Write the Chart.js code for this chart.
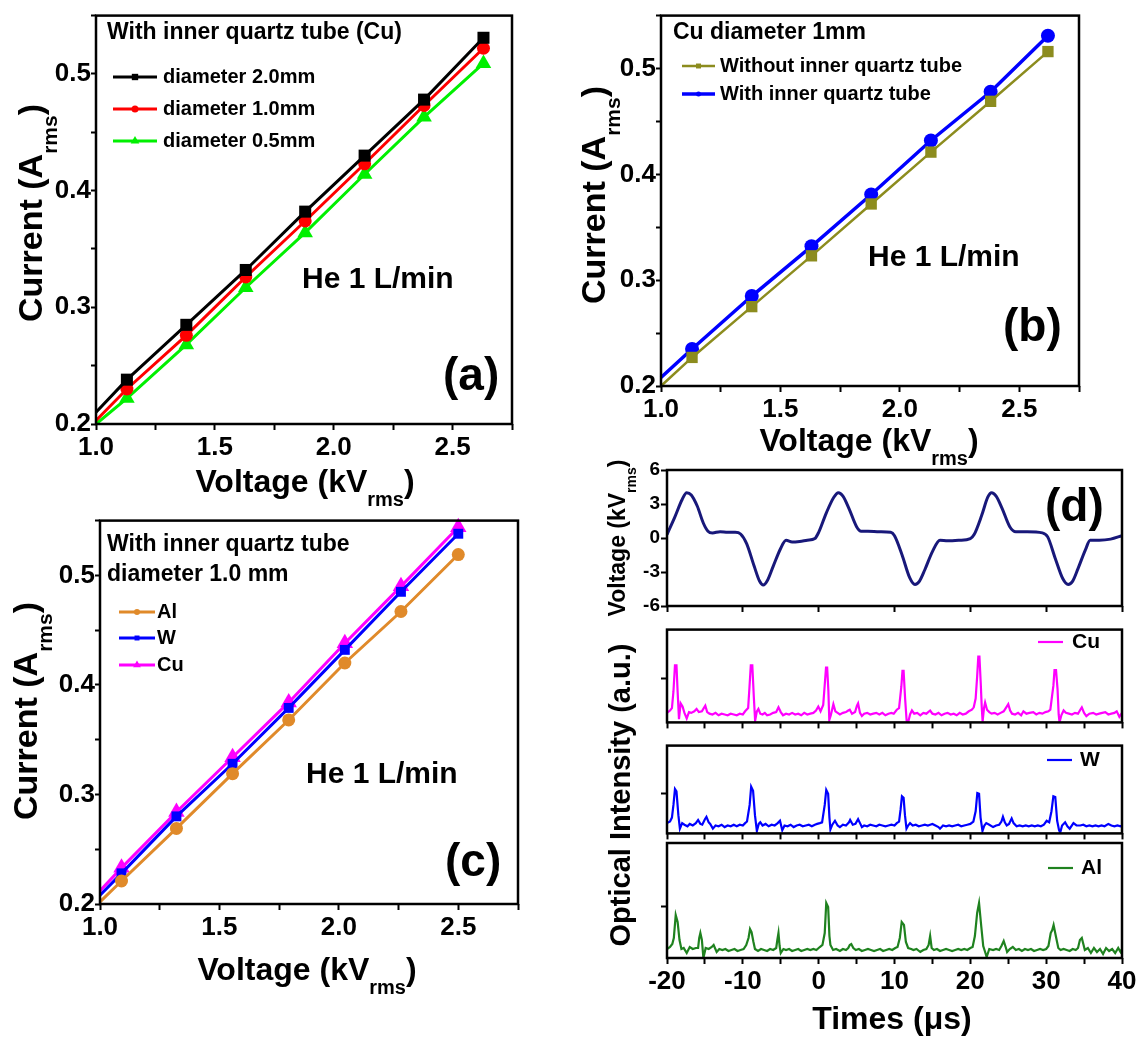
<!DOCTYPE html>
<html>
<head>
<meta charset="utf-8">
<script src="https://cdn.jsdelivr.net/npm/chart.js@4.4.1/dist/chart.umd.min.js"></script>
<style>
  body { margin: 0; background: #fff; }
  #wrap { position: relative; width: 1140px; height: 1042px; overflow: hidden; background: #fff; }
  #wrap canvas { position: absolute; }
</style>
</head>
<body>
<div id="wrap"></div>
<script>
// ---- (a) current vs voltage, inner quartz tube, Cu electrodes of three diameters ----
const voltsA = [1.0, 1.13, 1.38, 1.63, 1.88, 2.13, 2.38, 2.63];
const dia20 = [0.210, 0.238, 0.285, 0.332, 0.382, 0.430, 0.478, 0.531];
const dia10 = [0.203, 0.230, 0.276, 0.326, 0.374, 0.423, 0.473, 0.522];
const dia05 = [0.200, 0.222, 0.268, 0.317, 0.364, 0.414, 0.463, 0.509];
const seriesA = ['diameter 2.0mm', 'diameter 1.0mm', 'diameter 0.5mm'];

// ---- (b) Cu 1mm, with / without inner tube ----
const voltsB = [1.0, 1.13, 1.38, 1.63, 1.88, 2.13, 2.38, 2.62];
const withoutTube = [0.200, 0.227, 0.275, 0.323, 0.372, 0.421, 0.469, 0.516];
const withTube = [0.208, 0.235, 0.285, 0.332, 0.381, 0.432, 0.478, 0.531];
const seriesB = ['Without inner quartz tube', 'With inner quartz tube'];

// ---- (c) electrode material ----
const voltsC = [1.0, 1.09, 1.32, 1.555, 1.79, 2.025, 2.26, 2.5];
const currAl = [0.202, 0.221, 0.269, 0.319, 0.368, 0.420, 0.467, 0.519];
const currW = [0.208, 0.228, 0.280, 0.328, 0.379, 0.432, 0.485, 0.538];
const currCu = [0.212, 0.233, 0.284, 0.334, 0.384, 0.438, 0.490, 0.544];
const seriesC = ['Al', 'W', 'Cu'];

// tick labels
const currentLabels = [0.2, 0.3, 0.4, 0.5];
const voltageLabels = [1.0, 1.5, 2.0, 2.5];
const timeLabels = [-20, -10, 0, 10, 20, 30, 40];
const waveLabels = [-6, -3, 0, 3, 6];

// ---- (d) applied voltage waveform (kV) ----
const voltTime = [-20,-19.8,-19,-18,-17.4,-16.8,-16,-15.2,-14.6,-14,-13,-12,-11,-10.3,-9.5,-8.5,-7.8,-7.3,-6.8,-6,
  -5,-4.3,-3.5,-2.5,-1.5,-0.5,0,1,2,2.6,3.2,4,5,5.6,6.5,8,9.5,10,11,12,
  12.7,13.3,14,15,16,17,18.5,20,20.5,21.5,22.3,22.8,23.4,24.2,25.2,26,27.5,29.5,30.2,31.2,
  32.2,32.9,33.5,34.2,35.2,35.8,37,38.5,40];
const voltWave = [0.3,0.6,1.8,3.4,4.0,3.8,2.8,1.3,0.6,0.45,0.55,0.5,0.5,0.35,-0.5,-2.5,-3.8,-4.15,-3.8,-2.5,
  -0.9,-0.2,-0.35,-0.3,-0.2,-0.05,0.5,2.2,3.6,4.0,3.7,2.6,1.0,0.6,0.6,0.55,0.5,0.2,-1.5,-3.5,
  -4.1,-3.8,-2.8,-1.2,-0.2,-0.25,-0.2,-0.05,0.3,2.0,3.6,4.0,3.7,2.6,1.0,0.55,0.55,0.45,0.1,-1.8,
  -3.6,-4.1,-3.8,-2.7,-1.0,-0.2,-0.2,-0.1,0.2];

// optical emission traces [time us, intensity a.u.]
const cuTrace = [[-20,12],[-19.6,15],[-19.35,18],[-19.15,39],[-18.95,72],[-18.75,72],[-18.6,39],[-18.42,4],[-18.2,24],[-17.95,20],
  [-17.7,12],[-17.4,5],[-17.1,13],[-16.8,12],[-16.4,14],[-16.1,17],[-15.8,13],[-15.4,14],[-15.15,18],[-14.95,21],
  [-14.7,13],[-14.4,11],[-14.0,10],[-13.6,12],[-13.2,9],[-12.8,11],[-12.4,10],[-12.0,9],[-11.6,11],[-11.2,10],
  [-10.8,9],[-10.4,11],[-10.0,10],[-9.7,14],[-9.3,18],[-9.12,45],[-8.95,72],[-8.75,72],[-8.55,32],[-8.38,2],
  [-8.15,14],[-7.95,17],[-7.7,11],[-7.4,10],[-7.1,12],[-6.8,9],[-6.4,10],[-6.0,12],[-5.6,13],[-5.3,19],
  [-5.0,13],[-4.7,9],[-4.3,11],[-3.9,10],[-3.5,12],[-3.1,10],[-2.7,11],[-2.3,9],[-1.9,12],[-1.5,10],
  [-1.1,11],[-0.7,12],[-0.35,15],[-0.05,20],[0.25,14],[0.6,22],[0.82,50],[0.97,69],[1.12,69],[1.28,40],
  [1.4,3],[1.6,9],[1.94,23],[2.2,14],[2.5,12],[2.8,10],[3.2,12],[3.6,13],[3.9,15],[4.1,16],
  [4.4,11],[4.8,13],[5.05,21],[5.2,24],[5.45,12],[5.7,8],[6.0,11],[6.4,12],[6.8,10],[7.2,11],
  [7.6,12],[8.0,10],[8.4,12],[8.8,9],[9.2,11],[9.6,12],[9.9,11],[10.3,16],[10.6,18],[10.9,45],
  [11.05,65],[11.2,65],[11.4,30],[11.6,2],[11.8,0],[12.05,10],[12.3,15],[12.6,11],[13.0,12],[13.4,9],
  [13.8,12],[14.2,11],[14.7,15],[15.0,11],[15.4,10],[15.8,12],[16.2,9],[16.6,11],[17.0,12],[17.4,10],
  [17.8,11],[18.2,9],[18.6,12],[19.0,10],[19.4,11],[19.8,14],[20.2,16],[20.45,19],[20.7,30],[20.9,58],
  [21.05,83],[21.2,83],[21.37,50],[21.5,20],[21.62,1],[21.8,18],[21.95,25],[22.2,16],[22.5,13],[22.8,11],
  [23.2,12],[23.6,10],[24.0,12],[24.4,14],[24.8,20],[25.0,23],[25.25,15],[25.5,11],[25.9,10],[26.3,12],
  [26.7,9],[27.0,14],[27.4,11],[27.8,12],[28.3,13],[28.7,10],[29.1,12],[29.5,11],[29.9,13],[30.3,14],
  [30.55,16],[30.8,35],[30.95,46],[31.1,66],[31.3,66],[31.5,42],[31.65,10],[31.76,0],[32.0,9],[32.3,15],
  [32.6,12],[33.0,11],[33.4,10],[33.8,12],[34.2,11],[34.5,16],[34.7,19],[35.0,12],[35.3,8],[35.7,11],
  [36.2,12],[36.6,10],[37.0,11],[37.4,12],[37.8,13],[38.2,10],[38.6,11],[39.0,12],[39.3,14],[39.65,7],[40,12]];

const wTrace = [[-20,13],[-19.6,15],[-19.35,20],[-19.15,36],[-18.95,56],[-18.75,53],[-18.5,23],[-18.3,6],[-18.0,13],[-17.7,11],
  [-17.3,9],[-17.0,12],[-16.6,10],[-16.2,13],[-15.9,17],[-15.6,12],[-15.35,11],[-15.0,18],[-14.8,21],[-14.5,14],
  [-14.3,12],[-13.95,6],[-13.6,10],[-13.2,9],[-12.8,11],[-12.4,8],[-12.0,10],[-11.6,9],[-11.2,11],[-10.8,9],
  [-10.4,11],[-10.0,10],[-9.7,13],[-9.45,15],[-9.1,36],[-8.9,59],[-8.65,54],[-8.4,23],[-8.15,3],[-7.9,12],
  [-7.7,14],[-7.4,10],[-7.0,12],[-6.6,9],[-6.2,11],[-5.8,10],[-5.4,13],[-5.1,16],[-4.8,4],[-4.5,10],
  [-4.1,9],[-3.7,11],[-3.3,8],[-2.9,10],[-2.5,11],[-2.1,9],[-1.7,10],[-1.3,11],[-0.9,9],[-0.5,11],
  [-0.2,12],[0.15,13],[0.45,14],[0.8,36],[1.0,55],[1.25,50],[1.42,20],[1.55,5],[1.8,11],[2.15,16],
  [2.5,10],[2.8,8],[3.2,11],[3.6,10],[4.0,14],[4.15,17],[4.5,11],[4.85,12],[5.2,18],[5.45,13],
  [5.7,8],[6.0,10],[6.4,9],[6.8,11],[7.2,10],[7.6,9],[8.0,11],[8.4,10],[8.8,9],[9.2,10],
  [9.6,11],[10.0,10],[10.3,13],[10.6,15],[10.8,30],[10.98,47],[11.2,45],[11.38,23],[11.58,6],[11.8,10],
  [12.05,13],[12.4,10],[12.8,11],[13.2,9],[13.6,10],[14.0,11],[14.4,10],[14.7,11],[15.0,12],[15.4,10],
  [15.8,8],[16.0,6],[16.4,10],[16.8,9],[17.2,10],[17.6,9],[18.0,10],[18.4,11],[18.8,9],[19.2,10],
  [19.6,11],[20.0,12],[20.4,15],[20.7,28],[20.92,51],[21.15,50],[21.35,20],[21.6,3],[21.85,10],[22.1,13],
  [22.5,11],[23.0,8],[23.4,10],[23.8,11],[24.1,15],[24.3,21],[24.55,14],[24.8,10],[25.1,12],[25.45,19],
  [25.7,13],[26.1,9],[26.5,10],[26.9,9],[27.3,10],[27.7,9],[28.1,10],[28.5,9],[28.9,10],[29.3,9],
  [29.7,11],[30.07,16],[30.4,14],[30.7,28],[30.95,47],[31.2,46],[31.45,16],[31.7,4],[31.85,1],[32.1,10],
  [32.5,14],[32.8,9],[33.1,6],[33.6,13],[34.0,10],[34.5,10],[34.9,11],[35.3,9],[35.7,10],[36.1,9],
  [36.5,10],[36.9,9],[37.3,10],[37.7,9],[38.2,12],[38.6,10],[39.0,9],[39.4,10],[39.8,9],[40,10]];

const alTrace = [[-20,9],[-19.6,11],[-19.3,14],[-19.1,20],[-18.85,43],[-18.6,36],[-18.35,18],[-18.1,9],[-17.8,10],[-17.4,5],
  [-17.0,11],[-16.6,9],[-16.2,10],[-15.9,10],[-15.75,20],[-15.6,25],[-15.4,18],[-15.2,0],[-14.9,10],[-14.5,9],
  [-14.1,11],[-13.85,13],[-13.45,6],[-13.1,9],[-12.7,8],[-12.3,9],[-11.9,7],[-11.5,8],[-11.1,9],[-10.7,7],
  [-10.3,8],[-9.9,9],[-9.55,13],[-9.25,20],[-9.05,29],[-8.85,26],[-8.6,16],[-8.4,9],[-8.0,7],[-7.6,9],
  [-7.2,8],[-6.8,7],[-6.4,9],[-6.0,8],[-5.6,10],[-5.45,18],[-5.3,25],[-5.15,12],[-5.0,5],[-4.65,9],
  [-4.3,8],[-3.9,9],[-3.5,7],[-3.1,8],[-2.7,9],[-2.3,7],[-1.9,8],[-1.5,9],[-1.1,8],[-0.7,9],
  [-0.3,8],[0.15,11],[0.5,13],[0.8,25],[1.0,55],[1.25,51],[1.42,22],[1.55,13],[1.9,8],[2.3,9],
  [2.8,7],[3.2,9],[3.6,8],[3.9,10],[4.1,13],[4.3,14],[4.57,10],[4.9,8],[5.3,9],[5.7,7],
  [6.1,8],[6.5,9],[6.9,8],[7.3,7],[7.7,8],[8.1,9],[8.5,7],[8.9,8],[9.3,9],[9.7,8],
  [10.1,10],[10.4,11],[10.7,20],[10.95,36],[11.25,33],[11.5,16],[11.8,10],[12.2,9],[12.5,8],[12.9,9],
  [13.4,6],[13.8,8],[14.2,9],[14.5,13],[14.7,22],[14.9,10],[15.2,8],[15.6,9],[16.0,7],[16.4,8],
  [16.8,9],[17.2,8],[17.6,7],[18.0,8],[18.4,9],[18.8,8],[19.2,9],[19.6,8],[20.0,10],[20.3,11],
  [20.6,22],[20.9,45],[21.15,55],[21.45,31],[21.7,12],[21.95,6],[22.15,1],[22.5,9],[23.0,8],[23.4,9],
  [23.8,8],[24.1,12],[24.4,17],[24.7,10],[24.85,6],[25.2,9],[25.6,11],[26.0,8],[26.4,9],[26.8,7],
  [27.2,9],[27.6,8],[28.0,9],[28.4,7],[28.8,8],[29.2,9],[29.6,8],[30.0,9],[30.3,12],[30.6,25],
  [30.8,28],[30.98,33],[31.3,21],[31.6,10],[31.9,8],[32.3,9],[32.7,8],[33.1,7],[33.5,9],[33.9,8],
  [34.2,10],[34.45,18],[34.7,20],[35.1,8],[35.5,10],[35.9,5],[36.3,10],[36.7,6],[37.1,9],[37.5,4],
  [37.9,10],[38.3,7],[38.7,9],[39.1,5],[39.5,10],[39.8,6],[40,9]];

const FONT = "'Liberation Sans', Arial, sans-serif";
Chart.defaults.font.family = FONT;
Chart.defaults.color = '#000';

const bold = size => 'bold ' + size + 'px ' + FONT;
const pts = (xs, ys) => xs.map((x, i) => ({ x, y: ys[i] }));
const pairs = arr => arr.map(p => ({ x: p[0], y: p[1] }));

function drawMarker(ctx, style, x, y, r) {
  ctx.beginPath();
  if (style === 'rect') {
    const s = r * Math.SQRT1_2;
    ctx.rect(x - s, y - s, 2 * s, 2 * s);
  } else if (style === 'triangle') {
    for (let k = 0; k < 3; k++) {
      const a = -Math.PI / 2 + k * 2 * Math.PI / 3;
      k ? ctx.lineTo(x + r * Math.cos(a), y + r * Math.sin(a)) : ctx.moveTo(x + r * Math.cos(a), y + r * Math.sin(a));
    }
    ctx.closePath();
  } else {
    ctx.arc(x, y, r, 0, Math.PI * 2);
  }
  ctx.fill();
}

// text with optional subscript part, horizontal or rotated
function drawRich(ctx, t) {
  ctx.save();
  ctx.translate(t.x, t.y);
  if (t.rot) ctx.rotate(-Math.PI / 2);
  ctx.textBaseline = 'middle';
  ctx.fillStyle = '#000';
  const sub = t.sub || Math.round(t.size * 0.62);
  const w = t.parts.map(p => { ctx.font = bold(p.sub ? sub : t.size); return ctx.measureText(p.t).width; });
  const total = w.reduce((a, b) => a + b, 0);
  let cx = t.align === 'left' ? 0 : -total / 2;
  t.parts.forEach((p, i) => {
    ctx.font = bold(p.sub ? sub : t.size);
    ctx.fillText(p.t, cx, p.sub ? t.size * 0.55 : 0);
    cx += w[i];
  });
  ctx.restore();
}

const annotate = {
  id: 'annotate',
  afterDatasetsDraw(chart, args, opts) {
    const ctx = chart.ctx;
    const ox = opts.box.x, oy = opts.box.y;
    const a = chart.chartArea;
    ctx.save();
    ctx.strokeStyle = '#000';
    ctx.lineWidth = 2.5;
    ctx.strokeRect(a.left, a.top, a.right - a.left, a.bottom - a.top);
    (opts.legend || []).forEach(it => {
      const ds = chart.data.datasets[it.ds];
      const y = it.y - oy;
      ctx.strokeStyle = ds.borderColor;
      ctx.fillStyle = ds.borderColor;
      ctx.lineWidth = ds.borderWidth;
      ctx.beginPath();
      ctx.moveTo(it.x1 - ox, y);
      ctx.lineTo(it.x2 - ox, y);
      ctx.stroke();
      if (it.mr) drawMarker(ctx, ds.pointStyle, (it.x1 + it.x2) / 2 - ox, y, it.mr);
      ctx.fillStyle = '#000';
      ctx.font = bold(it.size);
      ctx.textBaseline = 'middle';
      ctx.fillText(ds.label, it.tx - ox, y);
    });
    ctx.restore();
    (opts.texts || []).forEach(t => drawRich(ctx, Object.assign({}, t, { x: t.x - ox, y: t.y - oy })));
  }
};

function axis(o) {
  const ax = {
    type: 'linear', position: o.pos, min: o.min, max: o.max,
    grid: { display: true, drawOnChartArea: false, drawTicks: true, tickLength: o.tl || 6, tickWidth: 2, tickColor: '#000' },
    border: { display: false },
    ticks: {
      stepSize: o.step, autoSkip: false, maxRotation: 0, minRotation: 0,
      padding: o.pad === undefined ? 2 : o.pad, color: '#000',
      font: { size: o.size || 26, weight: 'bold', family: FONT },
      callback: v => (o.labels && o.labels.some(l => Math.abs(l - v) < 1e-6)) ? o.fmt(v) : ''
    }
  };
  if (o.only) ax.afterBuildTicks = s => { s.ticks = o.only.map(v => ({ value: v })); };
  return ax;
}

function panel(box, area, datasets, xAx, yAx, annot) {
  const c = document.createElement('canvas');
  c.width = box.w; c.height = box.h;
  c.style.left = box.x + 'px'; c.style.top = box.y + 'px';
  c.style.width = box.w + 'px'; c.style.height = box.h + 'px';
  document.getElementById('wrap').appendChild(c);
  xAx.afterFit = s => { s.height = box.y + box.h - area.bottom; };
  yAx.afterFit = s => { s.width = area.left - box.x; };
  return new Chart(c, {
    type: 'line',
    data: { datasets },
    options: {
      responsive: false, animation: false, events: [],
      layout: { padding: { top: area.top - box.y, right: box.x + box.w - area.right, left: 0, bottom: 0 } },
      scales: { x: xAx, y: yAx },
      plugins: { legend: { display: false }, tooltip: { enabled: false }, annotate: Object.assign({ box }, annot) }
    },
    plugins: [annotate]
  });
}

const f1 = v => v.toFixed(1);
const f0 = v => String(Math.round(v));
const hideFirst = r => c => c.dataIndex === 0 ? 0 : r;

function ivSet(label, xs, ys, color, style, r, bw) {
  return {
    label, data: pts(xs, ys), borderColor: color, backgroundColor: color, borderWidth: bw,
    pointStyle: style, pointRadius: hideFirst(r), pointBorderWidth: 0, tension: 0, clip: false
  };
}
const curTitle = [{ t: 'Current (A' }, { t: 'rms', sub: true }, { t: ')' }];
const volTitle = [{ t: 'Voltage (kV' }, { t: 'rms', sub: true }, { t: ')' }];

// ---------- (a) ----------
panel({ x: 0, y: 0, w: 540, h: 515 }, { left: 96, top: 6, right: 512, bottom: 424 },
  [ivSet(seriesA[0], voltsA, dia20, '#000000', 'rect', 8.5, 3),
   ivSet(seriesA[1], voltsA, dia10, '#ff0000', 'circle', 6.5, 3),
   ivSet(seriesA[2], voltsA, dia05, '#00f000', 'triangle', 9, 3)],
  axis({ pos: 'bottom', min: 1.0, max: 2.75, step: 0.25, labels: voltageLabels, fmt: f1 }),
  axis({ pos: 'left', min: 0.2, max: 0.55, step: 0.05, labels: currentLabels, fmt: f1, pad: 0, tl: 5 }),
  {
    legend: [
      { ds: 0, x1: 113, x2: 157, y: 77, tx: 163, size: 20, mr: 4.5 },
      { ds: 1, x1: 113, x2: 157, y: 109, tx: 163, size: 20, mr: 3.5 },
      { ds: 2, x1: 113, x2: 157, y: 141, tx: 163, size: 20, mr: 5 }
    ],
    texts: [
      { parts: curTitle, x: 33, y: 213, size: 34, sub: 21, rot: true },
      { parts: volTitle, x: 305, y: 483, size: 32, sub: 20 },
      { parts: [{ t: 'With inner quartz tube (Cu)' }], x: 107, y: 33, size: 23, align: 'left' },
      { parts: [{ t: 'He 1 L/min' }], x: 302, y: 280, size: 30, align: 'left' },
      { parts: [{ t: '(a)' }], x: 443, y: 377, size: 46, align: 'left' }
    ]
  });

// ---------- (b) ----------
panel({ x: 560, y: 0, w: 580, h: 470 }, { left: 661, top: 5, right: 1079, bottom: 386 },
  [ivSet(seriesB[0], voltsB, withoutTube, '#8c8c1e', 'rect', 8, 2.5),
   ivSet(seriesB[1], voltsB, withTube, '#0000ff', 'circle', 7, 3.5)],
  axis({ pos: 'bottom', min: 1.0, max: 2.75, step: 0.25, labels: voltageLabels, fmt: f1 }),
  axis({ pos: 'left', min: 0.2, max: 0.55, step: 0.05, labels: currentLabels, fmt: f1, pad: 0, tl: 5 }),
  {
    legend: [
      { ds: 0, x1: 682, x2: 715, y: 66, tx: 720, size: 20, mr: 3.5 },
      { ds: 1, x1: 682, x2: 715, y: 94, tx: 720, size: 20, mr: 2.5 }
    ],
    texts: [
      { parts: curTitle, x: 596, y: 195, size: 34, sub: 21, rot: true },
      { parts: volTitle, x: 869, y: 442, size: 32, sub: 20 },
      { parts: [{ t: 'Cu diameter 1mm' }], x: 673, y: 33, size: 23, align: 'left' },
      { parts: [{ t: 'He 1 L/min' }], x: 868, y: 258, size: 30, align: 'left' },
      { parts: [{ t: '(b)' }], x: 1003, y: 328, size: 46, align: 'left' }
    ]
  });

// ---------- (c) ----------
panel({ x: 0, y: 505, w: 540, h: 537 }, { left: 100, top: 519, right: 518, bottom: 904 },
  [ivSet(seriesC[0], voltsC, currAl, '#e08a2a', 'circle', 6.5, 3),
   ivSet(seriesC[1], voltsC, currW, '#0000ff', 'rect', 7, 3),
   ivSet(seriesC[2], voltsC, currCu, '#ff00ff', 'triangle', 9.5, 3)],
  axis({ pos: 'bottom', min: 1.0, max: 2.75, step: 0.25, labels: voltageLabels, fmt: f1 }),
  axis({ pos: 'left', min: 0.2, max: 0.55, step: 0.05, labels: currentLabels, fmt: f1, pad: 0, tl: 5 }),
  {
    legend: [
      { ds: 0, x1: 119, x2: 155, y: 612, tx: 157, size: 20, mr: 3 },
      { ds: 1, x1: 119, x2: 155, y: 638, tx: 157, size: 20, mr: 3.5 },
      { ds: 2, x1: 119, x2: 155, y: 665, tx: 157, size: 20, mr: 4.5 }
    ],
    texts: [
      { parts: curTitle, x: 28, y: 711, size: 34, sub: 21, rot: true },
      { parts: volTitle, x: 307, y: 971, size: 32, sub: 20 },
      { parts: [{ t: 'With inner quartz tube' }], x: 107, y: 545, size: 23, align: 'left' },
      { parts: [{ t: 'diameter 1.0 mm' }], x: 107, y: 575, size: 23, align: 'left' },
      { parts: [{ t: 'He 1 L/min' }], x: 306, y: 775, size: 30, align: 'left' },
      { parts: [{ t: '(c)' }], x: 445, y: 863, size: 46, align: 'left' }
    ]
  });

// ---------- (d) ----------
const traceSet = (label, data, color, bw) => ({
  label, data, borderColor: color, backgroundColor: color, borderWidth: bw, pointRadius: 0, tension: 0
});

panel({ x: 560, y: 450, w: 580, h: 170 }, { left: 667, top: 470, right: 1122, bottom: 606 },
  [Object.assign(traceSet('Voltage', pts(voltTime, voltWave), '#18187a', 3), { cubicInterpolationMode: 'monotone' })],
  axis({ pos: 'bottom', min: -20, max: 40, step: 10 }),
  axis({ pos: 'left', min: -6, max: 6, step: 3, labels: waveLabels, fmt: f0, size: 19, pad: 1 }),
  {
    texts: [
      { parts: [{ t: 'Voltage (kV' }, { t: 'rms', sub: true }, { t: ')' }], x: 619, y: 538, size: 23, sub: 14, rot: true },
      { parts: [{ t: '(d)' }], x: 1045, y: 508, size: 46, align: 'left' }
    ]
  });

panel({ x: 560, y: 612, w: 580, h: 128 }, { left: 667, top: 615, right: 1122, bottom: 732 },
  [traceSet('Cu', pairs(cuTrace), '#ff00ff', 2.2)],
  axis({ pos: 'bottom', min: -20, max: 40, step: 5 }),
  axis({ pos: 'left', min: 0, max: 117, only: [55] }),
  { legend: [{ ds: 0, x1: 1038, x2: 1063, y: 642, tx: 1072, size: 21 }] });

panel({ x: 560, y: 728, w: 580, h: 123 }, { left: 667, top: 732, right: 1122, bottom: 843 },
  [traceSet('W', pairs(wTrace), '#0000ff', 2.2)],
  axis({ pos: 'bottom', min: -20, max: 40, step: 5 }),
  axis({ pos: 'left', min: 0, max: 111, only: [51] }),
  { legend: [{ ds: 0, x1: 1047, x2: 1072, y: 760, tx: 1080, size: 21 }] });

panel({ x: 560, y: 600, w: 580, h: 442 }, { left: 667, top: 843, right: 1122, bottom: 958 },
  [traceSet('Al', pairs(alTrace), '#1f821f', 2.2)],
  axis({ pos: 'bottom', min: -20, max: 40, step: 5, labels: timeLabels, fmt: f0, size: 26 }),
  axis({ pos: 'left', min: 0, max: 115, only: [52] }),
  {
    legend: [{ ds: 0, x1: 1048, x2: 1073, y: 868, tx: 1081, size: 21 }],
    texts: [
      { parts: [{ t: 'Optical Intensity (a.u.)' }], x: 622, y: 795, size: 29, rot: true },
      { parts: [{ t: 'Times (μs)' }], x: 892, y: 1020, size: 32 }
    ]
  });
</script>
</body>
</html>
